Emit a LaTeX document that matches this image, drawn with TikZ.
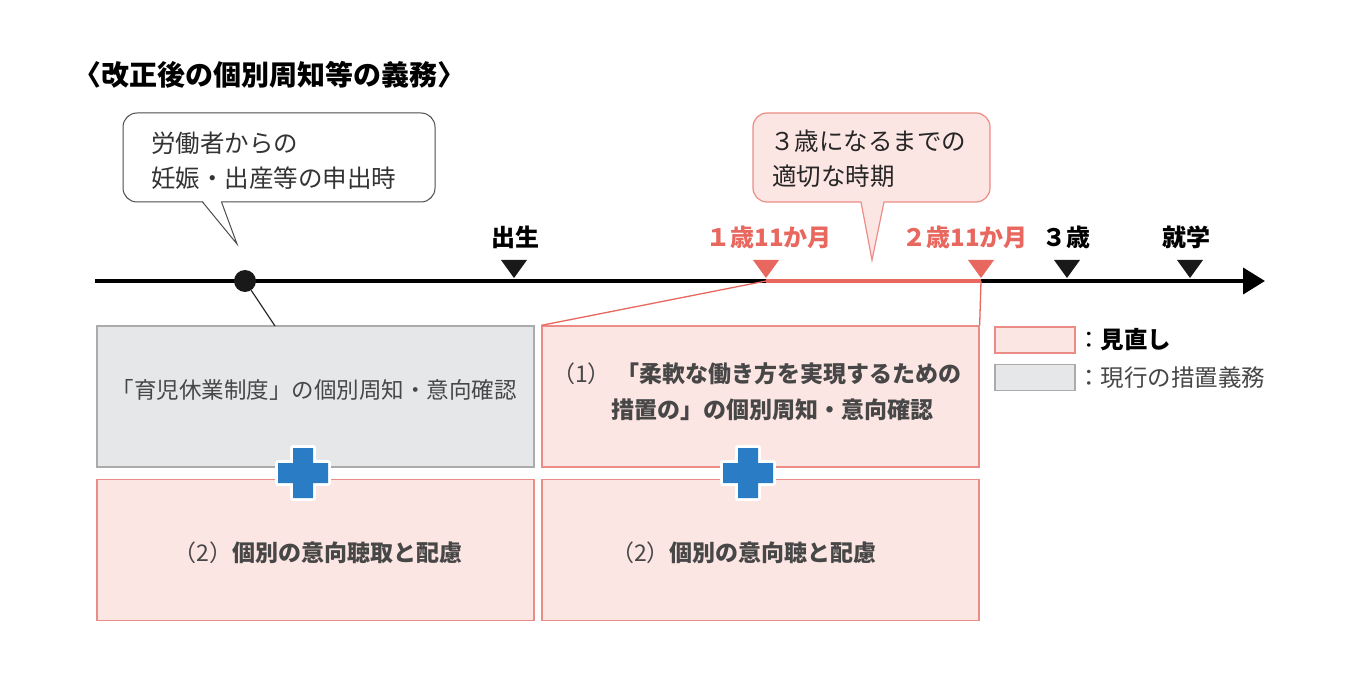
\documentclass[tikz,border=0pt]{standalone}
\usepackage{fontspec}
\setmainfont{Noto Sans CJK JP}
\usetikzlibrary{arrows.meta,calc}
\definecolor{accent}{HTML}{E8675E}
\definecolor{pinkfill}{HTML}{FCE6E3}
\definecolor{pinkline}{HTML}{EC8C86}
\definecolor{grayfill}{HTML}{E6E7E9}
\definecolor{grayline}{HTML}{ABABAB}
\definecolor{plusblue}{HTML}{2A7DC4}
\definecolor{txtgray}{HTML}{474747}
\tikzset{
  pinkbox/.style={draw=pinkline, fill=pinkfill, line width=1.3pt, minimum width=437pt, minimum height=141pt, inner sep=0pt},
  graybox/.style={draw=grayline, fill=grayfill, line width=1.3pt, minimum width=437pt, minimum height=141pt, inner sep=0pt},
  boxtxt/.style={text=txtgray, font=\fontsize{22.5pt}{26pt}\selectfont, inner sep=0pt},
  boxbold/.style={text=txtgray, font=\bfseries\fontsize{23pt}{26pt}\selectfont, inner sep=0pt},
  lbl/.style={font=\bfseries\fontsize{24pt}{26pt}\selectfont, inner sep=0pt},
  calltxt/.style={anchor=west, inner sep=0pt, font=\fontsize{24.5pt}{28pt}\selectfont},
  plus/.pic={
    \draw[white, line width=6pt, line join=round, fill=plusblue]
      (-10,-25) -- (10,-25) -- (10,-10) -- (25,-10) -- (25,10) -- (10,10) -- (10,25)
      -- (-10,25) -- (-10,10) -- (-25,10) -- (-25,-10) -- (-10,-10) -- cycle;
    \fill[plusblue]
      (-10,-25) -- (10,-25) -- (10,-10) -- (25,-10) -- (25,10) -- (10,10) -- (10,25)
      -- (-10,25) -- (-10,10) -- (-25,10) -- (-25,-10) -- (-10,-10) -- cycle;
  }
}
\begin{document}
\begin{tikzpicture}[x=1pt,y=-1pt]
\useasboundingbox[fill=white] (0,0) rectangle (1360,684);

% title
\node[anchor=west, inner sep=0pt, font=\bfseries\fontsize{28pt}{30pt}\selectfont] (title) at (73,75) {〈改正後の個別周知等の義務〉};

% callout 1
\node[draw=black!70, fill=white, line width=1pt, rounded corners=14pt, minimum width=312pt, minimum height=89pt, inner sep=0pt] (call1) at (279,157.5) {};
\coordinate (c1tip) at (237,244);
\fill[white] (203,201) -- (221,201) -- (c1tip) -- cycle;
\draw[black!70, line width=1pt, line join=miter] (202.5,202) -- (c1tip) -- (221.5,202);
\node[calltxt, text=black!80] (c1a) at (151,143) {労働者からの};
\node[calltxt, text=black!80] (c1b) at (151,178) {妊娠・出産等の申出時};

% callout 2
\node[draw=pinkline, fill=pinkfill, line width=1.2pt, rounded corners=14pt, minimum width=237pt, minimum height=89pt, inner sep=0pt] (call2) at (871.5,157.5) {};
\coordinate (c2tip) at (872,260);
\fill[pinkfill] (861,200) -- (884,200) -- (c2tip) -- cycle;
\draw[pinkline, line width=1.2pt, line join=miter] (861,202) -- (c2tip) -- (884,202);
\node[calltxt, text=black!85] (c2a) at (770,141) {３歳になるまでの};
\node[calltxt, text=black!85] (c2b) at (772,176) {適切な時期};

% timeline
\coordinate (tl0) at (95,281);
\coordinate (tl1) at (1265,281);
\draw[line width=4pt, -{Triangle[length=22pt,width=26pt]}] (tl0) -- (tl1);
\coordinate (m0) at (514,281);
\coordinate (m1) at (766,281);
\coordinate (m2) at (981,281);
\coordinate (m3) at (1067,281);
\coordinate (m4) at (1190,281);
\draw[accent, line width=4pt] (m1) -- (m2);
\foreach \m/\c in {m0/black!90, m1/accent, m2/accent, m3/black!90, m4/black!90}{
  \fill[\c] ($(\m)+(-13,-21)$) -- ($(\m)+(13,-21)$) -- ($(\m)+(0,-3)$) -- cycle;
}
\node[lbl] (l0) at (515,237) {出生};
\node[lbl, text=accent] (l1) at (769,237) {１歳11か月};
\node[lbl, text=accent] (l2) at (965,237) {２歳11か月};
\node[lbl] (l3) at (1066,237) {３歳};
\node[lbl] (l4) at (1186,237) {就学};

% dot
\node[circle, fill=black!90, minimum size=22pt, inner sep=0pt] (dot) at (245,281) {};

% boxes
\node[graybox] (boxA) at (315.5,396.5) {};
\node[pinkbox] (boxB) at (315.5,550) {};
\node[pinkbox] (boxC) at (760.5,396.5) {};
\node[pinkbox] (boxD) at (760.5,550) {};

% connectors
\coordinate (dotend) at (275,326);
\draw[black!85, line width=1.2pt] (dot) -- (dotend);
\draw[accent, line width=1.3pt] (m1) -- (boxC.north west);
\draw[accent, line width=1.3pt] (m2) -- (boxC.north east);

% box texts
\node[boxtxt] (tA) at (314,390) {「育児休業制度」の個別周知・意向確認};
\node[boxbold] (tB) at (318,553) {\mdseries（2）\bfseries 個別の意向聴取と配慮};
\node[boxbold, anchor=west] (tC1) at (552,374) {\mdseries（1）\bfseries\ 「柔軟な働き方を実現するための};
\node[boxbold, anchor=west] (tC2) at (611,410) {措置の」の個別周知・意向確認};
\node[boxbold] (tD) at (744,553) {\mdseries（2）\bfseries 個別の意向聴と配慮};

% plus signs
\pic at (303,473) {plus};
\pic at (748,473) {plus};

% legend
\node[draw=pinkline, fill=pinkfill, line width=1.3pt, minimum width=80pt, minimum height=26pt, inner sep=0pt] (legP) at (1035,340) {};
\node[draw=grayline, fill=grayfill, line width=1.3pt, minimum width=80pt, minimum height=26pt, inner sep=0pt] (legG) at (1035,377.5) {};
\node[anchor=west, inner sep=0pt, font=\fontsize{23.5pt}{26pt}\selectfont] (legPt) at (1077,340) {：\textbf{見直し}};
\node[anchor=west, inner sep=0pt, text=txtgray, font=\fontsize{23.5pt}{26pt}\selectfont] (legGt) at (1077,378) {：現行の措置義務};
\end{tikzpicture}
\end{document}
